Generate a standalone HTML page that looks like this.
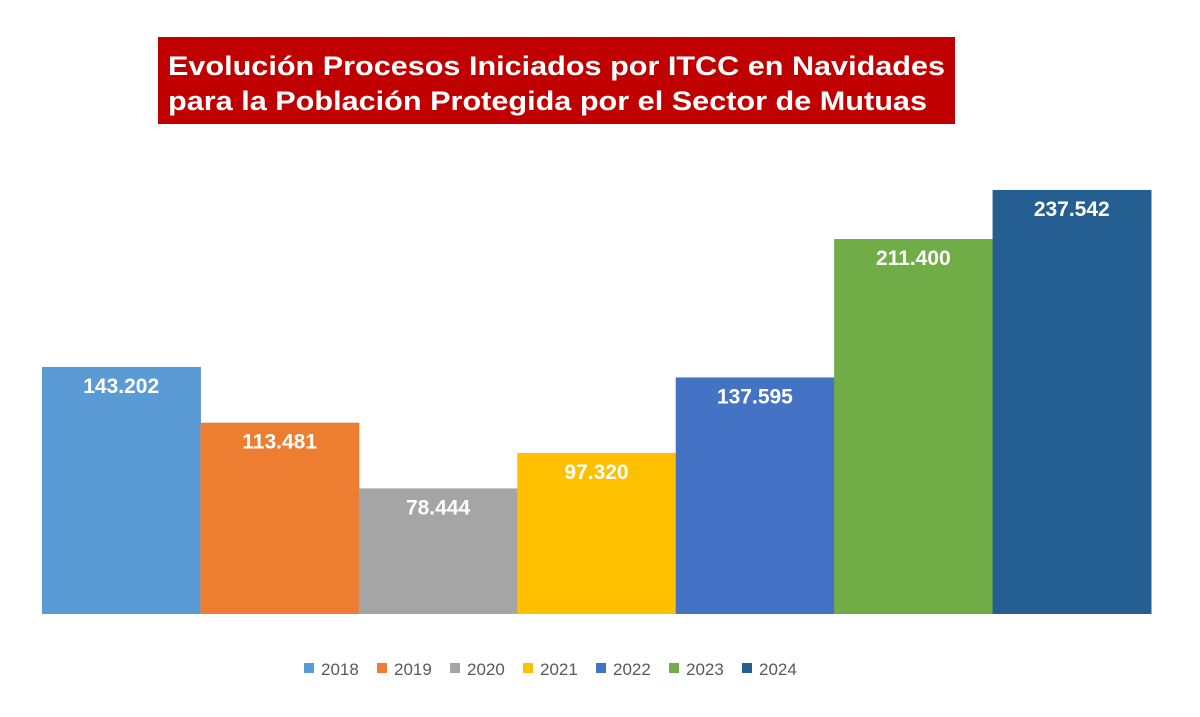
<!DOCTYPE html>
<html><head><meta charset="utf-8"><style>
html,body{margin:0;padding:0;background:#fff;width:1200px;height:717px;overflow:hidden}
svg{display:block;font-family:"Liberation Sans",Arial,sans-serif}
</style></head><body>
<svg id="chart" width="1200" height="717">
<rect x="158" y="37" width="797" height="87" fill="#c00000"/>
<text x="168" y="75" fill="#fff" font-weight="bold" font-size="27" textLength="777" lengthAdjust="spacingAndGlyphs">Evolución Procesos Iniciados por ITCC en Navidades</text>
<text x="168" y="110" fill="#fff" font-weight="bold" font-size="27" textLength="759" lengthAdjust="spacingAndGlyphs">para la Población Protegida por el Sector de Mutuas</text>
<g id="bars"></g><g id="legend"></g>
</svg>
<script>
const categories=["2018","2019","2020","2021","2022","2023","2024"];
const values=[143202,113481,78444,97320,137595,211400,237542];
const labels=["143.202","113.481","78.444","97.320","137.595","211.400","237.542"];
const colors=["#5b9bd5","#ed7d31","#a5a5a5","#ffc000","#4472c4","#70ad47","#255e91"];
const NS="http://www.w3.org/2000/svg";
const x0=42,x1=1151,base=614,vmin=11500,k=0.001876;
const bw=(x1-x0)/categories.length;
function xs(i){return x0+i*bw;}
function ys(v){return base-(v-vmin)*k;}
const g=document.getElementById('bars');
values.forEach((v,i)=>{
 const r=document.createElementNS(NS,'rect');
 r.setAttribute('x',xs(i));r.setAttribute('y',ys(v));r.setAttribute('width',bw+0.5);r.setAttribute('height',base-ys(v));r.setAttribute('fill',colors[i]);
 
 
 g.appendChild(r);
 const t=document.createElementNS(NS,'text');
 t.setAttribute('x',xs(i)+bw/2);t.setAttribute('y',ys(v)+26);t.setAttribute('text-anchor','middle');t.setAttribute('fill','#fff');t.setAttribute('font-weight','bold');t.setAttribute('font-size','21');
 t.textContent=labels[i];
 
 
 g.appendChild(t);
});
const lg=document.getElementById('legend');
categories.forEach((c,i)=>{
 const lxp=304+i*73;
 const s=document.createElementNS(NS,'rect');
 s.setAttribute('x',lxp);s.setAttribute('y',663);s.setAttribute('width',10);s.setAttribute('height',10);s.setAttribute('fill',colors[i]);
 
 
 lg.appendChild(s);
 const t=document.createElementNS(NS,'text');
 t.setAttribute('x',lxp+17);t.setAttribute('y',675);t.setAttribute('font-size','17');t.setAttribute('fill','#595959');
 t.textContent=c;
 
 
 lg.appendChild(t);
});
</script>
</body></html>
